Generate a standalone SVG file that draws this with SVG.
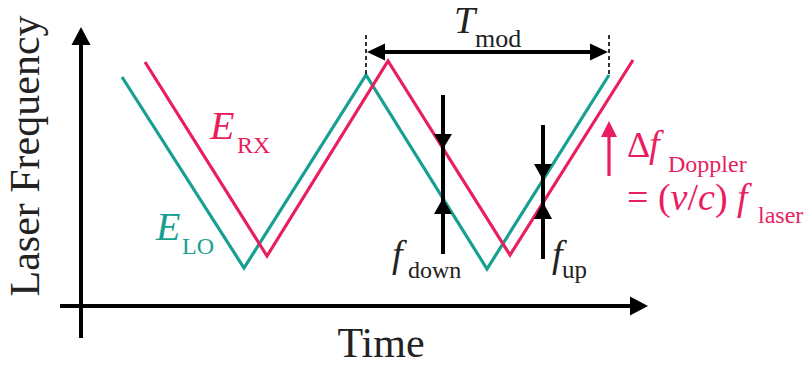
<svg xmlns="http://www.w3.org/2000/svg" width="809" height="366" viewBox="0 0 809 366">
<style>
.ax{stroke:#000;stroke-width:4;fill:none}
.hd{fill:#000;stroke:none}
.lo{stroke:#17a091;stroke-width:3.2;fill:none;stroke-linejoin:miter}
.rx{stroke:#e91e5f;stroke-width:3.2;fill:none;stroke-linejoin:miter}
.dash{stroke:#000;stroke-width:1.6;stroke-dasharray:4 3;fill:none}
.t{font-family:"Liberation Serif","Times New Roman",serif;fill:#222}
.i{font-style:italic}
.cr{fill:#e91e5f}
.cl{fill:#17a091}
</style>
<rect width="809" height="366" fill="#fff"/>
<g id="axes">
<line class="ax" x1="81" y1="338" x2="81" y2="43"/>
<polygon class="hd" points="81,27 71.5,45 90.5,45"/>
<line class="ax" x1="60" y1="306" x2="632" y2="306"/>
<polygon class="hd" points="648,306 630,296.5 630,315.5"/>
<text class="t" font-size="42" text-anchor="middle" transform="translate(39,156) rotate(-90)">Laser Frequency</text>
<text class="t" font-size="42" x="381" y="357" text-anchor="middle">Time</text>
</g>
<g id="signals">
<polyline id="lo" class="lo" points="122,77 244,268 366,75 487,269 609,75"/>
<polyline id="rx" class="rx" points="145,62 267,256 388,61 510,255 633,60"/>
</g>
<g id="labels">
<text class="t i cr" font-size="40" x="210" y="139">E</text>
<text class="t cr" font-size="24" x="237" y="153">RX</text>
<text class="t i cl" font-size="40" x="156" y="240">E</text>
<text class="t cl" font-size="24" x="182" y="254">LO</text>
</g>
<g id="tmod">
<line class="dash" x1="366" y1="35" x2="366" y2="75"/>
<line class="dash" x1="609" y1="35" x2="609" y2="75"/>
<line class="ax" x1="382" y1="52" x2="593" y2="52"/>
<polygon class="hd" points="367,52 385,43.5 385,60.5"/>
<polygon class="hd" points="608,52 590,43.5 590,60.5"/>
<text class="t i" font-size="38" x="454" y="33">T</text>
<text class="t" font-size="26" x="475" y="47">mod</text>
</g>
<g id="fdown">
<line class="ax" x1="443" y1="95" x2="443" y2="254"/>
<polygon class="hd" points="443,149 434,134 452,134"/>
<polygon class="hd" points="443,198 434,214 452,214"/>
<text class="t i" font-size="38" x="392" y="267">f</text>
<text class="t" font-size="24" x="408" y="278">down</text>
</g>
<g id="fup">
<line class="ax" x1="543" y1="125" x2="543" y2="259"/>
<polygon class="hd" points="543,180 534,164 552,164"/>
<polygon class="hd" points="543,202 534,219 552,219"/>
<text class="t i" font-size="38" x="552" y="267">f</text>
<text class="t" font-size="25" x="562" y="278">up</text>
</g>
<g id="doppler">
<line x1="609" y1="176" x2="609" y2="134" stroke="#e91e5f" stroke-width="3.2"/>
<polygon class="cr" points="609,121 601,137 617,137"/>
<text class="t cr" font-size="36" x="627" y="157">Δ</text>
<text class="t i cr" font-size="38" x="649" y="157">f</text>
<text class="t cr" font-size="24" x="668" y="172">Doppler</text>
<text class="t cr" font-size="38" x="627" y="210">= (<tspan class="i">v</tspan>/<tspan class="i">c</tspan>) <tspan class="i">f</tspan></text>
<text class="t cr" font-size="24" x="758" y="223">laser</text>
</g>
</svg>
